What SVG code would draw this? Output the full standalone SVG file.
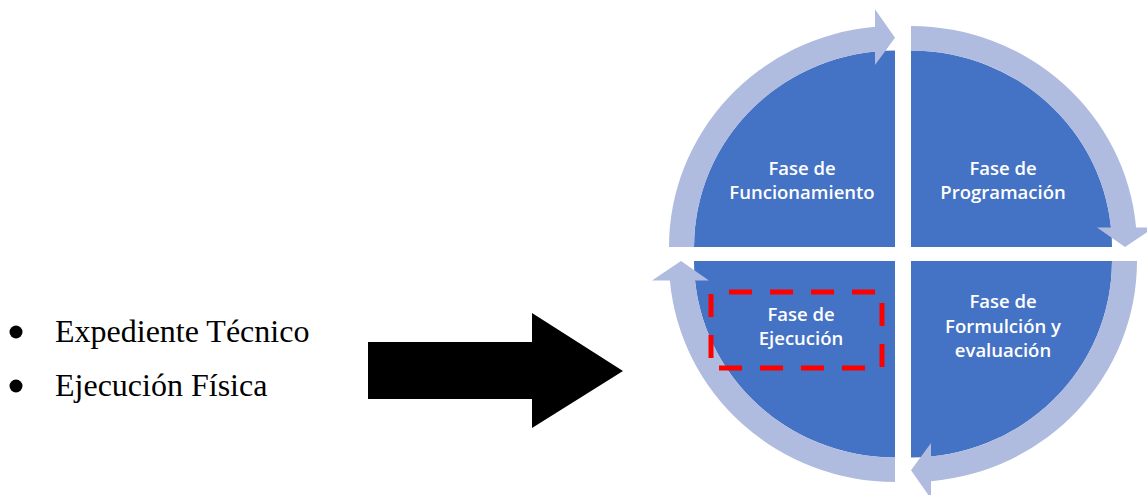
<svg xmlns="http://www.w3.org/2000/svg" xmlns:xlink="http://www.w3.org/1999/xlink" width="1147" height="495" viewBox="0 0 1147 495">
  <style>
    .seg { fill: #4472C4; }
    .ring { fill: #AFBBDF; }
    .lbl { font-family: "Open Sans", "Liberation Sans", sans-serif; font-size: 18.5px; font-weight: 600; fill: #FFFFFF; text-anchor: middle; }
    .item { font-family: "Liberation Serif", "Times New Roman", serif; font-size: 32px; fill: #000000; }
    .focus { fill: none; stroke: #FF0000; stroke-width: 5; stroke-dasharray: 23 18; stroke-dashoffset: 23; }
  </style>
  <defs>
    <!-- one quarter disc, corner at the origin, opening to the upper left -->
    <path id="quarter" d="M0 0 H-201 A201 201 0 0 1 0 -201 Z"/>
    <!-- curved band along the outer rim ending in an arrowhead at the top -->
    <path id="ringArrow" d="M-226 0 A226 226 0 0 1 -20 -225.1 L-20 -243 L0 -214 L-20 -186 L-20 -200 A201 201 0 0 0 -201 0 Z"/>
  </defs>

  <rect width="1147" height="495" fill="#FFFFFF"/>

  <!-- bullet list on the left -->
  <g id="list">
    <circle cx="16" cy="332" r="6.5"/>
    <text class="item" x="55" y="342">Expediente Técnico</text>
    <circle cx="16" cy="386" r="6.5"/>
    <text class="item" x="55" y="396">Ejecución Física</text>
  </g>

  <!-- block arrow pointing into the cycle -->
  <g id="connectors">
    <polygon points="368,342 532,342 532,313 623,371 532,428 532,399 368,399" fill="#000000"/>
  </g>

  <!-- four-phase cycle -->
  <g id="cycle" transform="translate(903,254) scale(1,0.978)">
    <g id="segments">
      <use xlink:href="#quarter" class="seg" transform="translate(-8,-7.16)"/>
      <use xlink:href="#quarter" class="seg" transform="translate(8,-7.16) rotate(90)"/>
      <use xlink:href="#quarter" class="seg" transform="translate(8,7.16) rotate(180)"/>
      <use xlink:href="#quarter" class="seg" transform="translate(-8,7.16) rotate(270)"/>
    </g>
    <g id="rim">
      <use xlink:href="#ringArrow" class="ring" transform="translate(-8,-7.16)"/>
      <use xlink:href="#ringArrow" class="ring" transform="translate(8,-7.16) rotate(90)"/>
      <use xlink:href="#ringArrow" class="ring" transform="translate(8,7.16) rotate(180)"/>
      <use xlink:href="#ringArrow" class="ring" transform="translate(-8,7.16) rotate(270)"/>
    </g>
  </g>

  <g id="fase-funcionamiento">
    <text class="lbl" x="802" y="175">Fase de</text>
    <text class="lbl" x="802" y="199">Funcionamiento</text>
  </g>

  <g id="fase-programacion">
    <text class="lbl" x="1003" y="175">Fase de</text>
    <text class="lbl" x="1003" y="199">Programación</text>
  </g>

  <g id="fase-formulacion">
    <text class="lbl" x="1003" y="308">Fase de</text>
    <text class="lbl" x="1003" y="333">Formulción y</text>
    <text class="lbl" x="1003" y="357">evaluación</text>
  </g>

  <g id="fase-ejecucion">
    <text class="lbl" x="801" y="321">Fase de</text>
    <text class="lbl" x="801" y="345">Ejecución</text>
    <rect class="focus" x="711" y="292" width="171" height="76"/>
  </g>
</svg>
